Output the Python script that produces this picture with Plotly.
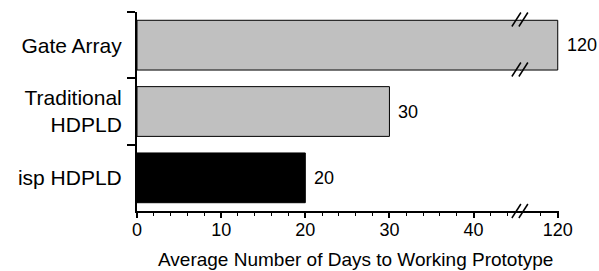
import plotly.graph_objects as go

# ---- data ----
categories = ["Gate Array", "Traditional<br>HDPLD", "isp HDPLD"]
days = [120, 30, 20]
bar_colors = ["#c0c0c0", "#c0c0c0", "#000000"]
x_title = "Average Number of Days to Working Prototype"
low_tickvals = [0, 10, 20, 30, 40]
high_tickvals = [120]

# ---- layout geometry ----
W_FIG, H_FIG = 599, 271
ML, MT, MB = 137, 12, 60
K = 8.42  # px per day
low_range = [0, 45.5]
high_range = [115.5, 120.15]
units = (low_range[1] - low_range[0]) + (high_range[1] - high_range[0])
PW = units * K
MR = W_FIG - ML - PW
PH = H_FIG - MT - MB
split = (low_range[1] - low_range[0]) / units
overlap = 0.15  # small overlap of the two panels to hide the seam

FONT = "Liberation Sans, Arial, Helvetica, sans-serif"

fig = go.Figure()
for xa, ya in (("x", "y"), ("x2", "y2")):
    fig.add_trace(go.Bar(
        y=categories, x=days, orientation="h",
        marker=dict(color=bar_colors, line=dict(color="black", width=1)),
        width=0.75, xaxis=xa, yaxis=ya, hoverinfo="skip", showlegend=False,
    ))

# value labels
annotations = []
for c, v in zip(categories, days):
    ref = "x2" if v > low_range[1] else "x"
    yref = "y2" if ref == "x2" else "y"
    annotations.append(dict(x=v, y=c, xref=ref, yref=yref, text=str(v),
                            showarrow=False, xanchor="left", xshift=7,
                            font=dict(size=18, color="black", family=FONT)))

def px2paper(px, py):
    return (px - ML) / PW, (H_FIG - MB - py) / PH

annotations.append(dict(text=x_title, xref="paper", yref="paper",
                        x=px2paper(356, 0)[0], y=px2paper(0, 259)[1],
                        showarrow=False, xanchor="center", yanchor="middle",
                        font=dict(size=19, color="black", family=FONT)))

# break marks "//"
shapes = []
bx = ML + split * PW
for cy in (19.5, 69.5, 211):
    for off in (-3.5, 3.5):
        x0, y0 = px2paper(bx + off - 4.5, cy + 7)
        x1, y1 = px2paper(bx + off + 4.5, cy - 7)
        shapes.append(dict(type="line", xref="paper", yref="paper",
                           x0=x0, y0=y0, x1=x1, y1=y1,
                           line=dict(color="black", width=1.5)))

axis_common = dict(showgrid=False, zeroline=False, showline=True, linecolor="black",
                   linewidth=2, ticks="outside", tickcolor="black", tickwidth=2,
                   ticklen=5, ticklabelstandoff=-4,
                   tickfont=dict(size=18, color="black", family=FONT))

fig.update_layout(
    width=W_FIG, height=H_FIG,
    margin=dict(l=ML, r=MR, t=MT, b=MB, pad=0),
    paper_bgcolor="white", plot_bgcolor="rgba(0,0,0,0)",
    bargap=0.25,
    font=dict(family=FONT, color="black"),
    xaxis=dict(domain=[0, split + overlap / units], range=[low_range[0], low_range[1] + overlap],
               anchor="y", tickvals=low_tickvals,
               minor=dict(dtick=2, ticks="outside", ticklen=3, tickcolor="black",
                          tickwidth=1, showgrid=False),
               **axis_common),
    xaxis2=dict(domain=[split, 1], range=high_range, anchor="y2",
                tickvals=high_tickvals,
                minor=dict(tickvals=[118], ticks="outside", ticklen=3, tickcolor="black",
                           tickwidth=1, showgrid=False),
                **axis_common),
    yaxis=dict(domain=[0, 1], anchor="x", type="category", categoryorder="array",
               categoryarray=categories, range=[2.5, -0.5], tickson="boundaries",
               showgrid=False, zeroline=False, showline=True, linecolor="black",
               linewidth=2, ticks="outside", tickcolor="black", tickwidth=2, ticklen=8,
               ticklabelstandoff=9,
               tickfont=dict(size=21, color="black", family=FONT)),
    yaxis2=dict(domain=[0, 1], anchor="x2", matches="y", type="category",
                range=[2.5, -0.5], showgrid=False, zeroline=False, showline=False,
                showticklabels=False, ticks=""),
    annotations=annotations,
    shapes=shapes,
)

fig.write_html("out.html", config={"displayModeBar": False},
               post_script="document.body.style.margin='0px';")
